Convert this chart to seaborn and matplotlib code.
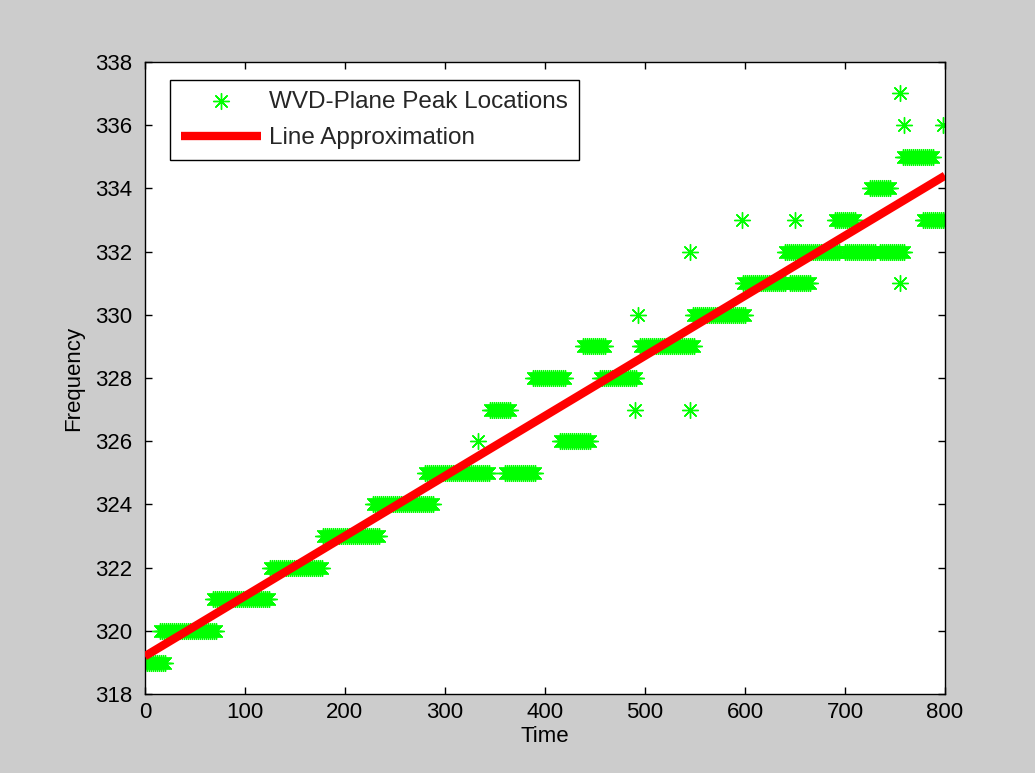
import numpy as np
import pandas as pd
import matplotlib
matplotlib.use("Agg")
import matplotlib.pyplot as plt
import seaborn as sns

# ---- data: peak-location runs (frequency, start time, end time) ----
seg_freq  = [319, 320, 321, 322, 323, 324, 325, 325, 326, 327, 328, 328,
             329, 329, 330, 331, 331, 332, 332, 332, 333, 333, 334, 335]
seg_start = [0,   15,  68,  125, 178, 228, 280, 360, 415, 345, 388, 455,
             438, 495, 548, 598, 645, 640, 700, 735, 690, 778, 725, 758]
seg_end   = [20,  72,  125, 178, 235, 288, 345, 390, 445, 365, 420, 492,
             460, 550, 600, 640, 665, 695, 730, 760, 710, 800, 745, 788]
# isolated peaks
single_t = [333, 490, 545, 493, 545, 597, 650, 755, 759, 798, 755]
single_f = [326, 327, 327, 330, 332, 333, 333, 331, 336, 336, 337]
sample_step = 2

# fitted line end points
line_t = [0, 800]
line_f = [319.2, 334.4]

x_ticks = list(range(0, 801, 100))
y_ticks = list(range(318, 339, 2))

# build point table
ts, fs = [], []
for f, a, b in zip(seg_freq, seg_start, seg_end):
    t = np.arange(a, b + 1, sample_step)
    ts.extend(t.tolist()); fs.extend([f] * len(t))
ts.extend(single_t); fs.extend(single_f)
pts = pd.DataFrame({"Time": ts, "Frequency": fs})
line = pd.DataFrame({"Time": line_t, "Frequency": line_f})

sns.set_style("ticks")
plt.rcParams["font.family"] = ["Liberation Sans", "DejaVu Sans"]

fig = plt.figure(figsize=(10.35, 7.73), dpi=100, facecolor="#cccccc")
ax = fig.add_axes([0.140, 0.102, 0.773, 0.818])
ax.set_facecolor("white")

sns.scatterplot(data=pts, x="Time", y="Frequency", ax=ax, marker=(8, 2, 0),
                color="#00ff00", s=130, linewidth=1.0, edgecolor="#00ff00",
                label="WVD-Plane Peak Locations", zorder=2)
sns.lineplot(data=line, x="Time", y="Frequency", ax=ax, color="red",
             linewidth=6, label="Line Approximation", zorder=3,
             solid_capstyle="butt")

ax.set_xlim(0, 800)
ax.set_ylim(318, 338)
ax.set_xticks(x_ticks)
ax.set_yticks(y_ticks)
ax.tick_params(direction="in", top=True, right=True, length=5, width=1,
               labelsize=16, colors="black")
ax.tick_params(axis="y", pad=9)
ax.tick_params(axis="x", pad=6)
for sp in ax.spines.values():
    sp.set_visible(True)
    sp.set_color("black")
    sp.set_linewidth(1)
ax.set_xlabel("Time", fontsize=16, color="black", labelpad=2)
ax.set_ylabel("Frequency", fontsize=16, color="black", labelpad=8)

leg = ax.legend(loc="upper left", bbox_to_anchor=(0.031, 0.9715),
                borderaxespad=0, fontsize=17.5,
                frameon=True, fancybox=False, framealpha=1, edgecolor="black",
                borderpad=0.45, handlelength=3.3, handletextpad=0.35,
                labelspacing=0.6)
leg.get_frame().set_linewidth(1)

fig.savefig("out.png", dpi=100, facecolor=fig.get_facecolor())
